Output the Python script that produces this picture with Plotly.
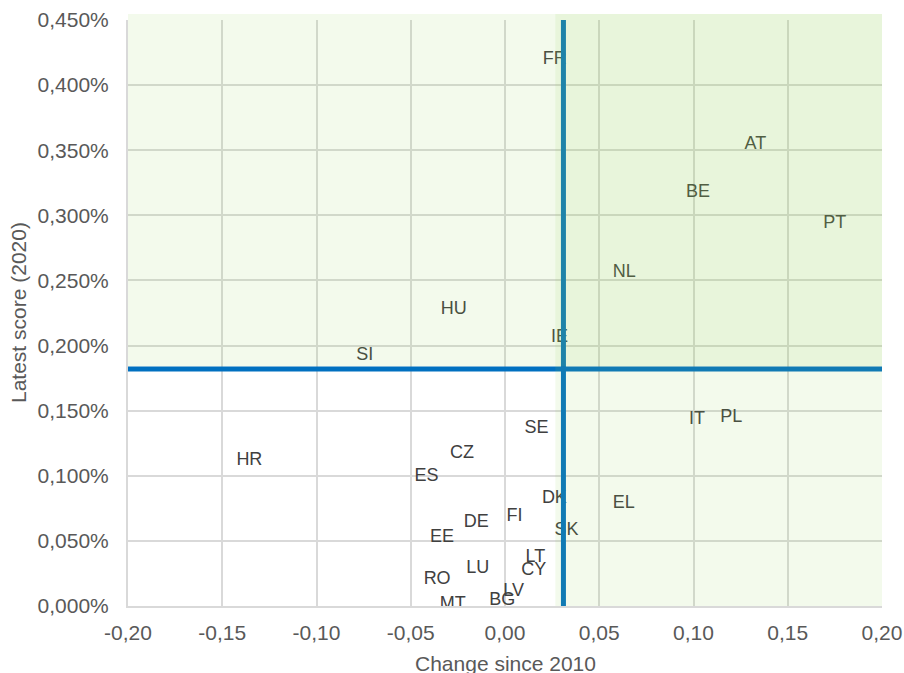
import plotly.graph_objects as go

countries = ["FR", "AT", "BE", "PT", "NL", "IE", "HU", "SI", "HR", "IT", "PL", "EL",
             "SE", "CZ", "ES", "DK", "FI", "DE", "SK", "EE", "LT", "LU", "CY", "RO",
             "LV", "MT", "BG"]
change_since_2010 = [0.0264, 0.1328, 0.1024, 0.1749, 0.0633, 0.0289, -0.0272, -0.0744,
                     -0.1356, 0.1019, 0.1201, 0.0630, 0.0167, -0.0228, -0.0417, 0.0262,
                     0.0050, -0.0152, 0.0326, -0.0334, 0.0161, -0.0145, 0.0152, -0.0360,
                     0.0046, -0.0277, -0.0015]
latest_score_pct = [0.4193, 0.3544, 0.3172, 0.2941, 0.2564, 0.2064, 0.2280, 0.1923,
                    0.1116, 0.1429, 0.1449, 0.0787, 0.1364, 0.1172, 0.0993, 0.0826,
                    0.0690, 0.0641, 0.0583, 0.0526, 0.0372, 0.0287, 0.0275, 0.0206,
                    0.0108, 0.0010, 0.0040]

x_threshold = 0.031
y_threshold = 0.182
shade_x = 0.0267

x_ticks = [-0.20, -0.15, -0.10, -0.05, 0.00, 0.05, 0.10, 0.15, 0.20]
x_ticktext = ["-0,20", "-0,15", "-0,10", "-0,05", "0,00", "0,05", "0,10", "0,15", "0,20"]
y_ticks = [0.0, 0.05, 0.10, 0.15, 0.20, 0.25, 0.30, 0.35, 0.40, 0.45]
y_ticktext = ["0,000%", "0,050%", "0,100%", "0,150%", "0,200%", "0,250%", "0,300%",
              "0,350%", "0,400%", "0,450%"]

FONT = "Liberation Sans, Arial, sans-serif"
TICK = "#595959"

fig = go.Figure()
fig.add_trace(go.Scatter(
    x=change_since_2010, y=latest_score_pct, mode="text", text=countries,
    textposition="middle center",
    textfont=dict(family=FONT, size=18, color="#404040"),
    cliponaxis=True, hoverinfo="text", showlegend=False))

# threshold lines
fig.add_trace(go.Scatter(x=[x_threshold, x_threshold], y=[0, 0.45], mode="lines",
                         line=dict(color="#0070C0", width=5), showlegend=False,
                         hoverinfo="skip"))
fig.add_trace(go.Scatter(x=[-0.20, 0.20], y=[y_threshold, y_threshold], mode="lines",
                         line=dict(color="#0070C0", width=5), showlegend=False,
                         hoverinfo="skip"))

shade = "rgba(146,208,80,0.11)"
fig.add_shape(type="rect", layer="above", xref="x", yref="paper",
              x0=-0.20, x1=0.20, y0=(y_threshold + 0.0021) / 0.45, y1=1.0102,
              fillcolor=shade, line=dict(width=0))
fig.add_shape(type="rect", layer="above", xref="x", yref="paper",
              x0=shade_x, x1=0.20, y0=0, y1=1.0102,
              fillcolor=shade, line=dict(width=0))

fig.add_annotation(text="Change since 2010", xref="paper", yref="paper",
                   x=0.5, y=0, xanchor="center", yanchor="middle", yshift=-57,
                   showarrow=False, font=dict(family=FONT, size=21, color=TICK))
fig.add_annotation(text="Latest score (2020)", xref="paper", yref="paper",
                   x=0, y=0.5, xanchor="center", yanchor="middle", xshift=-110,
                   textangle=-90, showarrow=False,
                   font=dict(family=FONT, size=21, color=TICK))

fig.update_layout(
    width=904, height=673,
    margin=dict(l=128, r=22, t=20, b=67),
    paper_bgcolor="white", plot_bgcolor="white",
    font=dict(family=FONT, color=TICK, size=21),
    xaxis=dict(range=[-0.20, 0.20], tickvals=x_ticks, ticktext=x_ticktext,
               showgrid=True, gridcolor="#D9D9D9", gridwidth=2,
               zeroline=False, showline=True, linecolor="#D9D9D9", linewidth=2,
               ticks="", ticklabelstandoff=7, automargin=False,
               tickfont=dict(family=FONT, size=21, color=TICK)),
    yaxis=dict(range=[0, 0.45], tickvals=y_ticks, ticktext=y_ticktext,
               showgrid=True, gridcolor="#D9D9D9", gridwidth=2,
               zeroline=False, showline=True, linecolor="#D9D9D9", linewidth=2,
               ticks="", ticklabelstandoff=13, automargin=False,
               tickfont=dict(family=FONT, size=21, color=TICK)),
)

fig.write_html("out.html", config={"displayModeBar": False},
               post_script="document.body.style.margin='0';")
